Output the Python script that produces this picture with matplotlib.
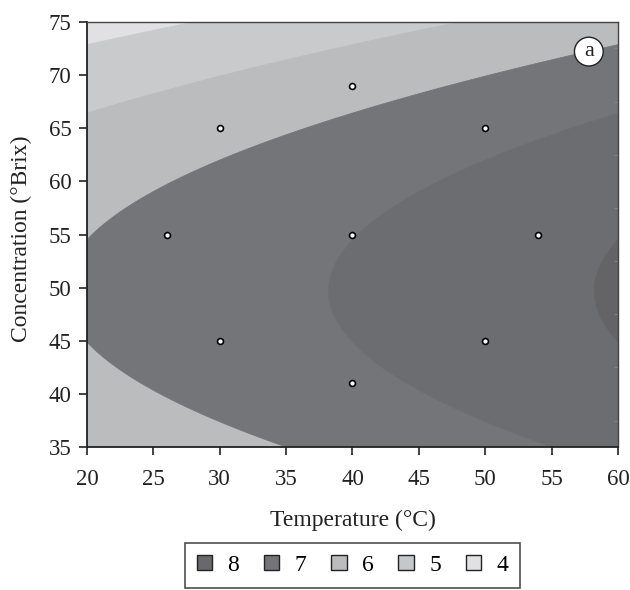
import matplotlib
matplotlib.use("Agg")
import matplotlib.pyplot as plt
from matplotlib.patches import Patch
import numpy as np

# ---- data ----
# design points (central composite design)
temp_pts = [26, 30, 30, 40, 40, 40, 50, 50, 54]
conc_pts = [55, 45, 65, 41, 55, 69, 45, 65, 55]

# fitted response surface: y = b0 + b1*(T-40) + b11*(T-40)^2 + b22*(C-c0)^2
coef_b0 = 7.59
coef_b1 = 0.05
coef_b11 = 0.0
coef_b22 = -0.0039
conc_center = 49.7

contour_levels = [0, 4.5, 5.5, 6.5, 7.5, 8.5, 12]
region_colors = ["#e1e1e3", "#c9cacc", "#bbbcbe", "#747579", "#6c6d71", "#646467"]

legend_labels = ["8", "7", "6", "5", "4"]
legend_colors = ["#68696d", "#747579", "#bbbcbe", "#c6c7c9", "#e1e1e3"]

plt.rcParams["font.family"] = ["Liberation Serif", "DejaVu Serif"]

fig = plt.figure(figsize=(6.3, 5.9), dpi=100)
ax = fig.add_axes([0.138, 0.242, 0.843, 0.721])

T = np.linspace(20, 60, 300)
C = np.linspace(35, 75, 300)
TT, CC = np.meshgrid(T, C)
Z = (coef_b0 + coef_b1 * (TT - 40) + coef_b11 * (TT - 40) ** 2
     + coef_b22 * (CC - conc_center) ** 2)

cs = ax.contourf(TT, CC, Z, levels=contour_levels, colors=region_colors,
                 antialiased=True)
cs.set_edgecolor("face")
cs.set_linewidth(0.6)

ax.scatter(temp_pts, conc_pts, s=18, facecolor="white", edgecolor="black",
           linewidth=1.2, zorder=5)

ax.set_xlim(20, 60)
ax.set_ylim(35, 75)
ax.set_xticks(range(20, 61, 5))
ax.set_yticks(range(35, 76, 5))
ax.tick_params(axis="both", labelsize=16.5, direction="out", length=6, width=1.2,
               colors="#222222", labelcolor="#222222")
ax.tick_params(axis="x", pad=10)
ax.tick_params(axis="y", pad=5)
ax.yaxis.set_minor_locator(matplotlib.ticker.MultipleLocator(2.5))
ax.tick_params(axis="y", which="minor", left=False, right=True, direction="in",
               length=3, width=0.6, color="#888888")
for side in ["left", "bottom"]:
    ax.spines[side].set_linewidth(1.3)
    ax.spines[side].set_color("#222222")
for side in ["top", "right"]:
    ax.spines[side].set_linewidth(1.0)
    ax.spines[side].set_color("#444444")

ax.set_xlabel("Temperature (°C)", fontsize=17, color="#222222", labelpad=14)
ax.set_ylabel("Concentration (°Brix)", fontsize=17, color="#222222")
ax.yaxis.set_label_coords(-0.104, 0.49)

ax.text(57.8, 72.2, "a", fontsize=16, ha="center", va="center", color="#222222",
        bbox=dict(boxstyle="circle,pad=0.22", facecolor="white",
                  edgecolor="#222222", linewidth=1.0), zorder=6)

handles = [Patch(facecolor=c, edgecolor="#222222", linewidth=1.0) for c in legend_colors]
leg = fig.legend(handles, legend_labels, ncol=5, loc="lower center",
                 bbox_to_anchor=(0.5595, 0.0), fontsize=17, frameon=True,
                 fancybox=False, edgecolor="#222222", handlelength=0.65,
                 handleheight=0.65, handletextpad=0.65, columnspacing=1.05,
                 borderpad=0.5, borderaxespad=0.1)
leg.get_frame().set_linewidth(1.2)

fig.savefig("out.png", dpi=100)
